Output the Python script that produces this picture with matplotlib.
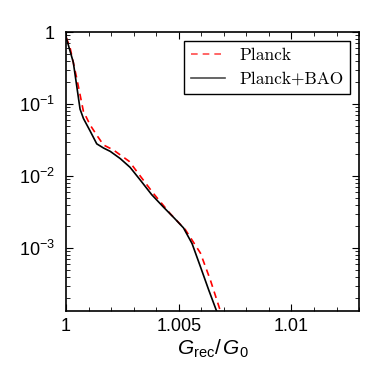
import matplotlib
matplotlib.use('Agg')
import matplotlib.pyplot as plt
from matplotlib.ticker import FixedLocator, MultipleLocator, FixedFormatter

plt.rcParams['font.family'] = ['Liberation Sans']
plt.rcParams['mathtext.fontset'] = 'custom'
plt.rcParams['mathtext.rm'] = 'Liberation Sans'
plt.rcParams['mathtext.it'] = 'Liberation Sans:italic'

# Planck (red dashed)
x_planck = [1.0000, 1.00018, 1.00047, 1.00077, 1.00107, 1.00136, 1.00166, 1.0021, 1.0028,
            1.0033, 1.00388, 1.00462, 1.00529, 1.00596, 1.0064, 1.00684]
y_planck = [0.85, 0.6, 0.23, 0.079, 0.051, 0.037, 0.027, 0.023, 0.016,
            0.0099, 0.0057, 0.003, 0.0018, 0.00085, 0.00036, 0.000135]

# Planck+BAO (black solid)
x_bao = [1.0000, 1.00032, 1.00047, 1.00062, 1.00077, 1.00107, 1.00136, 1.00166, 1.00196, 1.0024,
         1.00284, 1.00329, 1.0038, 1.00432, 1.0048, 1.00521, 1.00559, 1.00596, 1.00633, 1.00667]
y_bao = [0.85, 0.38, 0.18, 0.085, 0.063, 0.042, 0.028, 0.0245, 0.022, 0.0175,
         0.0132, 0.0088, 0.0055, 0.0037, 0.0026, 0.0019, 0.00115, 0.00055, 0.00026, 0.000135]

xticks = [1.0, 1.005, 1.01]
xticklabels = ['1', '1.005', '1.01']
yticks = [1e-3, 1e-2, 1e-1, 1]
yticklabels = [r'$10^{-3}$', r'$10^{-2}$', r'$10^{-1}$', '1']

fig = plt.figure(figsize=(3.82, 3.82), dpi=100)
ax = fig.add_axes([0.173, 0.187, 0.767, 0.729])

ax.plot(x_planck, y_planck, color='red', ls=(0, (4, 3)), lw=1.2, label='Planck')
ax.plot(x_bao, y_bao, color='black', lw=1.2, label='Planck+BAO')

ax.set_yscale('log')
ax.set_xlim(1.0, 1.013)
ax.set_ylim(1.35e-4, 1.0)

ax.xaxis.set_major_locator(FixedLocator(xticks))
ax.xaxis.set_major_formatter(FixedFormatter(xticklabels))
ax.xaxis.set_minor_locator(MultipleLocator(0.001))
ax.yaxis.set_major_locator(FixedLocator(yticks))
ax.yaxis.set_major_formatter(FixedFormatter(yticklabels))

ax.tick_params(which='both', direction='in', top=True, right=True, labelsize=13)
ax.tick_params(which='major', length=5, width=0.8)
ax.tick_params(which='minor', length=3, width=0.6)
ax.tick_params(axis='x', pad=5)
ax.tick_params(axis='y', pad=8)
for s in ax.spines.values():
    s.set_linewidth(1.2)

ax.set_xlabel(r'$G_{\rm rec}/\,G_0$', fontsize=15, labelpad=2)

leg = ax.legend(loc='upper right', prop={'family': 'cmr10', 'size': 12.5},
                fancybox=False, edgecolor='black', framealpha=1,
                handlelength=2.0, borderaxespad=0.5)
leg.get_frame().set_linewidth(1.0)
for h in leg.legend_handles:
    h.set_alpha(0.7)

fig.savefig('out.png', dpi=100)
